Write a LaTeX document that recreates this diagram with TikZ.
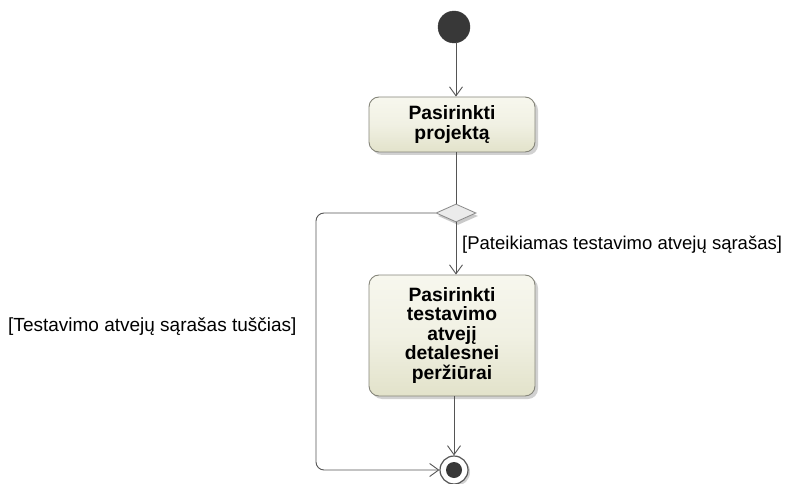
\documentclass[tikz,border=0pt]{standalone}
\usepackage{fontspec}
\setmainfont{Liberation Sans}
\usetikzlibrary{arrows.meta,shapes.geometric,shadows}

\definecolor{actfilltop}{HTML}{F7F7EE}
\definecolor{actfillbot}{HTML}{E2E2CA}
\definecolor{actborder}{HTML}{85857A}
\definecolor{edgecol}{HTML}{555555}
\definecolor{dotcol}{HTML}{383838}
\definecolor{decfill}{HTML}{EBEBEB}

\tikzset{
  flow/.style={draw=edgecol, line width=0.9pt, -{Straight Barb[length=9pt,width=13pt,line width=0.9pt]}},
  action/.style={draw=actborder, line width=0.9pt, rounded corners=10pt,
    top color=actfilltop, bottom color=actfillbot, middle color=actfilltop!70!actfillbot,
    drop shadow={shadow xshift=3pt, shadow yshift=-3pt, opacity=0.3, fill=black!60},
    minimum width=166pt, align=center, inner sep=0pt,
    font=\bfseries\fontsize{19.3}{19.5}\selectfont},
  initnode/.style={circle, fill=dotcol, draw=dotcol, minimum size=32pt, inner sep=0pt},
  finalring/.style={circle, fill=white, draw=edgecol, line width=1.2pt, minimum size=28pt, inner sep=0pt,
    drop shadow={shadow xshift=2pt, shadow yshift=-2pt, opacity=0.3, fill=black!60}},
  finaldot/.style={circle, fill=dotcol, minimum size=16pt, inner sep=0pt},
  decision/.style={diamond, draw=edgecol!70, line width=0.8pt, fill=decfill,
    minimum width=40pt, minimum height=18pt, inner sep=0pt,
    drop shadow={shadow xshift=2pt, shadow yshift=-3pt, opacity=0.35, fill=black!60}},
  guard/.style={font=\fontsize{19}{20}\selectfont, inner sep=0pt}
}

\begin{document}
\begin{tikzpicture}[x=1pt, y=-1pt]
  \useasboundingbox (0,0) rectangle (787,484);

  % nodes
  \node[initnode] (init) at (454,27) {};
  \node[action, minimum height=55pt] (pick) at (452,124.5) {Pasirinkti\\projektą};
  \node[decision] (dec) at (456,213) {};
  \node[action, minimum height=121pt] (detail) at (452,335.5) {Pasirinkti\\testavimo\\atvejį\\detalesnei\\peržiūrai};
  \node[finalring] (final) at (454,470) {};
  \node[finaldot] at (final) {};

  \coordinate (bendL) at (316,340);

  % connectors
  \draw[flow] (init.south -| dec) -- (pick.north -| dec);
  \draw[draw=edgecol, line width=0.9pt] (pick.south -| dec) -- (dec.north);
  \draw[flow] (dec.south) -- (detail.north -| dec);
  \draw[flow] (detail.south -| final) -- (final.north);
  \draw[flow, rounded corners=8pt] (dec.west) -| (bendL) |- (final.west);

  % guards
  \node[guard, anchor=west, font=\fontsize{18.5}{20}\selectfont] (g1) at (462,245) {[Pateikiamas testavimo atvejų sąrašas]};
  \node[guard, anchor=west] (g2) at (8,327) {[Testavimo atvejų sąrašas tuščias]};
\end{tikzpicture}
\end{document}
